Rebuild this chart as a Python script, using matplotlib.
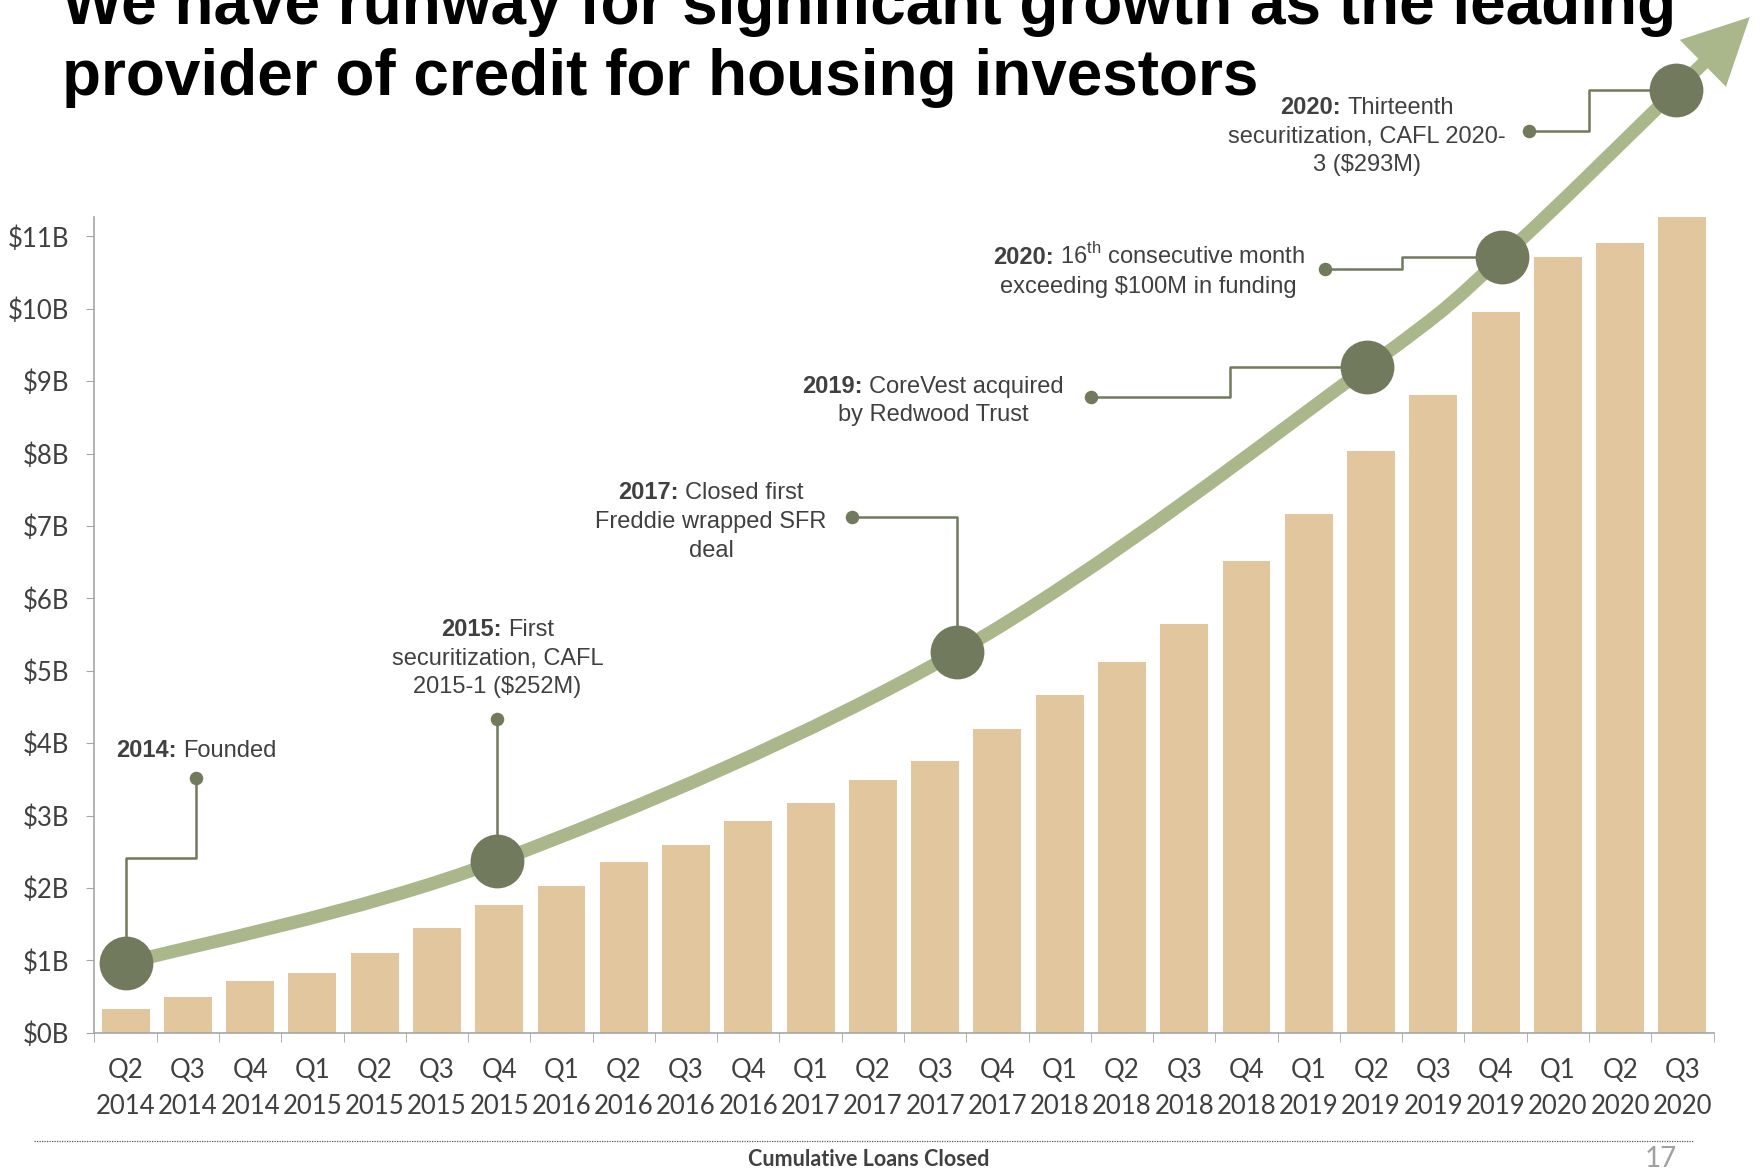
import matplotlib
matplotlib.use("Agg")
import matplotlib.pyplot as plt
from matplotlib import font_manager
from matplotlib.patches import FancyArrowPatch, ArrowStyle
from matplotlib.path import Path
from matplotlib.lines import Line2D
from matplotlib.transforms import offset_copy
import numpy as np

# --- Data ---
quarter_labels = [
    "Q2\n2014", "Q3\n2014", "Q4\n2014", "Q1\n2015", "Q2\n2015", "Q3\n2015", "Q4\n2015",
    "Q1\n2016", "Q2\n2016", "Q3\n2016", "Q4\n2016", "Q1\n2017", "Q2\n2017", "Q3\n2017",
    "Q4\n2017", "Q1\n2018", "Q2\n2018", "Q3\n2018", "Q4\n2018", "Q1\n2019", "Q2\n2019",
    "Q3\n2019", "Q4\n2019", "Q1\n2020", "Q2\n2020", "Q3\n2020",
]
cumulative_loans = [
    0.33, 0.50, 0.71, 0.82, 1.10, 1.44, 1.77, 2.02, 2.36, 2.59, 2.92, 3.17, 3.49,
    3.75, 4.19, 4.67, 5.12, 5.65, 6.52, 7.17, 8.04, 8.81, 9.96, 10.72, 10.91, 11.27,
]
y_ticks = list(range(0, 12))
y_tick_labels = [f"${v}B" for v in y_ticks]

# growth arrow: milestone circles (x in quarter index, y in $B) and arrow tip
milestone_x = [0.0, 5.97, 13.35, 19.93, 22.11, 24.89]
milestone_y = [0.96, 2.37, 5.26, 9.19, 10.72, 13.02]
arrow_tip = (26.08, 14.03)

# leader lines from each circle to its small dot
leader_x = [
    [0.0, 0.0, 1.136, 1.136],
    [5.97, 5.97],
    [13.35, 13.35, 11.67],
    [19.93, 17.73, 17.73, 15.51],
    [22.11, 20.49, 20.49, 19.26],
    [24.89, 23.50, 23.50, 22.53],
]
leader_y = [
    [0.96, 2.42, 2.42, 3.52],
    [2.37, 4.33],
    [5.26, 7.12, 7.12],
    [9.19, 9.19, 8.78, 8.78],
    [10.72, 10.72, 10.55, 10.55],
    [13.02, 13.02, 12.46, 12.46],
]

label_x = [1.136, 5.97, 9.40, 12.97, 16.43, 19.93]
label_y = [3.93, 5.60, 7.49, 8.96, 10.74, 12.81]
label_heads = ["2014:", "2015:", "2017:", "2019:", "2020:", "2020:"]
label_lines = [
    ["Founded"],
    ["First", "securitization, CAFL", "2015-1 ($252M)"],
    ["Closed first", "Freddie wrapped SFR", "deal"],
    ["CoreVest acquired", "by Redwood Trust"],
    ["16$^{\\rm th}$ consecutive month", "exceeding \\$100M in funding"],
    ["Thirteenth", "securitization, CAFL 2020-", "3 (\\$293M)"],
]

title_lines = ["We have runway for significant growth as the leading",
               "provider of credit for housing investors"]

# --- Style ---
BAR = "#E2C69E"
CURVE = "#A9B78B"
DOT = "#717A5C"
TEXT = "#404040"
AXIS = "#A6A6A6"

names = {f.name for f in font_manager.fontManager.ttflist}
if "Liberation Sans Narrow" in names:
    tick_font, tick_size, foot_size = "Liberation Sans Narrow", 21, 16
else:
    tick_font, tick_size, foot_size = "Lato", 18.5, 15.5
plt.rcParams["mathtext.fontset"] = "custom"
plt.rcParams["mathtext.rm"] = "Liberation Sans"

W, H = 1762, 1171
fig = plt.figure(figsize=(W / 100, H / 100), dpi=100)
ax = fig.add_axes([94.4 / W, 1 - 1032.7 / H, (1713.6 - 94.4) / W, (1032.7 - 216.9) / H])

x = np.arange(len(cumulative_loans))
ax.bar(x, cumulative_loans, width=0.77, color=BAR, zorder=1)
ax.set_xlim(-0.5, 25.5)
ax.set_ylim(0, 11.27)

ax.set_xticks(x)
ax.set_xticklabels(quarter_labels, family=tick_font, fontsize=tick_size, color=TEXT,
                   linespacing=1.55)
ax.set_xticks(np.arange(-0.5, 26, 1), minor=True)
ax.tick_params(axis="x", which="major", length=0, pad=18)
ax.tick_params(axis="x", which="minor", length=6.3, color=AXIS, direction="out")
ax.set_yticks(y_ticks)
ax.set_yticklabels(y_tick_labels, family=tick_font, fontsize=tick_size, color=TEXT)
ax.tick_params(axis="y", length=6, color=AXIS, pad=12)
for side in ["top", "right"]:
    ax.spines[side].set_visible(False)
for side in ["left", "bottom"]:
    ax.spines[side].set_color(AXIS)
    ax.spines[side].set_linewidth(1.2)

# growth curve: smooth Bezier through the milestones ending at the arrow tip
pts = np.array(list(zip(milestone_x, milestone_y)) + [arrow_tip])
ext = np.vstack([pts[0], pts, pts[-1]])
verts, codes = [tuple(pts[0])], [Path.MOVETO]
for i in range(len(pts) - 1):
    p0, p1, p2, p3 = ext[i], ext[i + 1], ext[i + 2], ext[i + 3]
    verts += [tuple(p1 + (p2 - p0) / 6), tuple(p2 - (p3 - p1) / 6), tuple(p2)]
    codes += [Path.CURVE4] * 3
arrow = FancyArrowPatch(path=Path(verts, codes),
                        arrowstyle=ArrowStyle("-|>", head_length=32, head_width=16),
                        color=CURVE, lw=9.5, shrinkA=0, shrinkB=0,
                        transform=ax.transData, clip_on=False, zorder=2,
                        joinstyle="miter", capstyle="butt")
ax.add_patch(arrow)

# leader lines, dots and milestone circles
for lx, ly in zip(leader_x, leader_y):
    ax.plot(lx, ly, color=DOT, lw=1.8, clip_on=False, zorder=3)
    ax.scatter([lx[-1]], [ly[-1]], s=95, color=DOT, clip_on=False, zorder=3, linewidths=0)
ax.scatter(milestone_x, milestone_y, s=1500, color=DOT, clip_on=False, zorder=4, linewidths=0)

# milestone captions: bold year + regular text, centred lines
fig.canvas.draw()
renderer = fig.canvas.get_renderer()
fs = 17
em = fs * 100 / 72
line_h = 28.7
kw = dict(fontsize=fs, color=TEXT, family="Liberation Sans", va="baseline", zorder=5)
for cx, cy, head, lines in zip(label_x, label_y, label_heads, label_lines):
    for i, line in enumerate(lines):
        dy = -8.6 - i * line_h
        if i == 0:
            tb = ax.text(cx, cy, head, weight="bold", ha="left", **kw)
            tr = ax.text(cx, cy, line, ha="left", **kw)
            wb = tb.get_window_extent(renderer).width
            wr = tr.get_window_extent(renderer).width
            sp = 0.278 * em
            left = -(wb + sp + wr) / 2
            tb.set_transform(offset_copy(ax.transData, fig=fig, x=left, y=dy, units="dots"))
            tr.set_transform(offset_copy(ax.transData, fig=fig, x=left + wb + sp, y=dy,
                                         units="dots"))
        else:
            ax.text(cx, cy, line, ha="center",
                    transform=offset_copy(ax.transData, fig=fig, x=0, y=dy, units="dots"), **kw)

# title
fig.text(62 / W, 1 - 23.6 / H, title_lines[0], fontsize=46, weight="bold",
         family="Liberation Sans", va="baseline", color="black")
fig.text(62 / W, 1 - 95.5 / H, title_lines[1], fontsize=46, weight="bold",
         family="Liberation Sans", va="baseline", color="black")

# footer
fig.add_artist(Line2D([34 / W, 1693 / W], [1 - 1141 / H] * 2, transform=fig.transFigure,
                      color="#555555", lw=0.9, ls=(0, (1, 1))))
fig.text(869 / W, 1 - 1160 / H, "Cumulative Loans Closed", family=tick_font,
         weight="bold", fontsize=foot_size, color=TEXT, ha="center", va="center")
fig.text(1661 / W, 1 - 1159 / H, "17", family=tick_font, fontsize=20,
         color="#A0A0A0", ha="center", va="center")

fig.savefig("out.png", dpi=100)
